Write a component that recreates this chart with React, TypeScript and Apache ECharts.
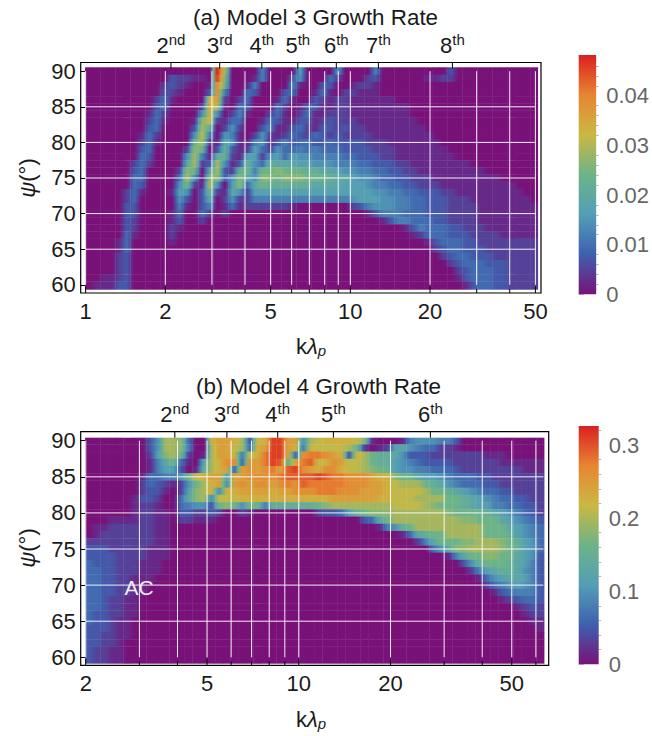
import React, { useEffect, useRef } from "react";
import * as echarts from "echarts";

const FONT = '"Liberation Sans", Arial, sans-serif';
const INK = "#1a1a1a";
const palette = [
  [120, 18, 121],
  [63, 96, 174],
  [83, 158, 182],
  [109, 179, 136],
  [202, 184, 67],
  [231, 133, 50],
  [217, 33, 32],
];
const LEVELS = "0123456789abcdefghijk";

// Growth-rate levels. Rows run from psi = 90 down to psi = 60,
// columns run in equal log k steps; each character is a level 0..k (k = 20 = top of colour bar).
const model3Rows = [
  "0000000000 0000000kc0 0005000070 0006000050 0000000030 0000000000",
  "0000000000 0322110jb0 0015000360 0042000230 0000011220 0000000000",
  "0000000000 2321001ga0 0150000510 0330012210 0000000000 0000000000",
  "0000000000 3210003g50 0430003400 1410221110 0000000000 0000000000",
  "0000000002 410000df20 2400014100 3212211111 1000000000 0000000000",
  "0000000003 400002fc10 4300042013 3112211111 1110000000 0000000000",
  "0000000014 200006e602 5100241024 1122211111 1110000000 0000000000",
  "0000000024 10001bd214 4001431133 1232221111 1111000000 0000000000",
  "0000000034 00003c9026 2003511342 1332322111 1111100000 0000000000",
  "0000000142 00006d5065 1026212432 4323222211 1111110000 0000000000",
  "0000000241 0000ac2186 1156135344 3343333222 1111111000 0000000000",
  "0000000340 0002ba0393 1274264454 5444333322 2111111100 0000000000",
  "0000000430 0006c51992 1772674766 5555443332 2111111110 0000000000",
  "0000002420 0008c23c61 3964988877 6665554433 3221111111 1000000000",
  "0000003400 002ba08c32 9a5aabaaa9 9887665544 3322111111 1110000000",
  "0000004400 004c60bb36 b86bbabbba aa98876654 4332221111 1111100000",
  "0000004300 006a21c607 b48a999999 8888777655 4433222111 1111111000",
  "0000024100 017603a218 6277777777 7777777766 5544333221 1111111100",
  "0000024000 0063038026 2255555555 5555567776 6554433322 2111111110",
  "0000033000 0051035014 1222222100 0000023566 6554433322 2211111111",
  "0000033000 0140042020 0000000000 0000000135 5544433322 2211111111",
  "0000032000 0130020000 0000000000 0000000001 3554443322 2211111111",
  "0000032000 0210000000 0000000000 0000000000 0013544433 2221111111",
  "0000041000 0200000000 0000000000 0000000000 0001244433 3222211111",
  "0000140000 0100000000 0000000000 0000000000 0000013444 3322222222",
  "0000140000 0000000000 0000000000 0000000000 0000002344 3332222222",
  "0000230000 0000000000 0000000000 0000000000 0000000234 4333222222",
  "0000230000 0000000000 0000000000 0000000000 0000000023 4443332222",
  "0000230000 0000000000 0000000000 0000000000 0000000002 3444332222",
  "0011230000 0000000000 0000000000 0000000000 0000000001 3444332222",
  "0111330000 0000000000 0000000000 0000000000 0000000000 1344332222",
];

const model4Rows = [
  "0000000036 ccb400effe c3dejjff6c deeeedb100 0156665530 0000000000",
  "0000000036 ccb500cffd c4efjjfe5e ddddca2012 7865442210 0000000000",
  "0000000027 bca201cffe 5dehjjf4gh hgfe3eca99 8633322222 2211100000",
  "0000000015 8a4108cegg 4gfhji9fhi degfddca99 7654333322 2222111111",
  "0000000015 773019cef4 fgfghfijgf eggeddcbaa 7665544432 2222222111",
  "0000000144 556adeff7f fgggghiiii jihhgggfee baa8776544 4332222222",
  "0000000243 2126acef6f gfggfghgih hhhhgggffe dccca98654 4433222222",
  "0000000233 1027bce6ee ffffeffggg hhhgggfffe ddddcaa987 6544332222",
  "0000001332 0048bc6ddd eeeeeeeeee eeffffffee dddccccaa9 8765443322",
  "0000001221 0045663aba 6aa5999999 abcccccccc ddddcbaaa9 8775544332",
  "0000001221 1033223200 2100000000 233479abbb cccccccbaa aa98765432",
  "0001111221 1022111000 0000000000 000000348a cccccccccb baaa876543",
  "0112222221 1000000000 0000000000 0000000015 69accccccc ccaaa87654",
  "0122222221 1000000000 0000000000 0000000000 01489aaccc ccaaa97654",
  "2222222221 1000000000 0000000000 0000000000 000258aaab bcccba9764",
  "3332222211 1000000000 0000000000 0000000000 00000468bb ccccba9764",
  "3333222211 1000000000 0000000000 0000000000 0000000158 aabbaa8763",
  "4333222111 0000000000 0000000000 0000000000 0000000003 69aaa98753",
  "4433222111 0000000000 0000000000 0000000000 0000000000 2578998653",
  "4433221110 0000000000 0000000000 0000000000 0000000000 0146788753",
  "4433221100 0000000000 0000000000 0000000000 0000000000 0024567653",
  "4433221100 0000000000 0000000000 0000000000 0000000000 0001345553",
  "4432211000 0000000000 0000000000 0000000000 0000000000 0000123443",
  "4432211000 0000000000 0000000000 0000000000 0000000000 0000001232",
  "4332211000 0000000000 0000000000 0000000000 0000000000 0000000122",
  "4332110000 0000000000 0000000000 0000000000 0000000000 0000000011",
  "3332110000 0000000000 0000000000 0000000000 0000000000 0000000001",
  "3322110000 0000000000 0000000000 0000000000 0000000000 0000000000",
  "3322100000 0000000000 0000000000 0000000000 0000000000 0000000000",
  "3221100000 0000000000 0000000000 0000000000 0000000000 0000000000",
  "3221100000 0000000000 0000000000 0000000000 0000000000 0000000000",
];

const psiTicks = [60, 65, 70, 75, 80, 85, 90];
const psiGrid = [65, 70, 75, 80, 85];

const majorA = [1, 2, 5, 10, 20, 50];
const minorA = [3, 4, 6, 7, 8, 9, 30, 40];
const harmonicKA = [2.1, 3.21, 4.63, 6.33, 8.85, 12.76, 24.3];
const harmonicLabelsA = ["2|nd", "3|rd", "4|th", "5|th", "6|th", "7|th", "8|th"];

const majorB = [2, 5, 10, 20, 50];
const minorB = [3, 4, 6, 7, 8, 9, 30, 40, 60];
const harmonicKB = [3.92, 5.81, 8.53, 12.99, 27.04];
const harmonicLabelsB = ["2|nd", "3|rd", "4|th", "5|th", "6|th"];

const barMajorA = [0, 0.01, 0.02, 0.03, 0.04];
const barMinorA = [0.002, 0.004, 0.006, 0.008, 0.012, 0.014, 0.016, 0.018, 0.022, 0.024, 0.026, 0.028, 0.032, 0.034, 0.036, 0.038, 0.042, 0.044, 0.046];
const barMajorB = [0, 0.1, 0.2, 0.3];
const barMinorB = [0.02, 0.04, 0.06, 0.08, 0.12, 0.14, 0.16, 0.18, 0.22, 0.24, 0.26, 0.28, 0.32];

const panelA = {
  rows: model3Rows, max: 0.0482, kFrom: 0.995, kTo: 51, kMin: 0.958, kMax: 52.5, yMin: 58.85, yMax: 91.22,
  psiTop: 90.55, psiBottom: 59.37,
  kGridFrom: 1, kGridTo: 50, major: majorA, minor: minorA, harmK: harmonicKA, harmL: harmonicLabelsA,
  left: 80.7, right: 541, top: 62.5, bottom: 293,
};
const panelB = {
  rows: model4Rows, max: 0.326, kFrom: 1.99, kTo: 63.8, kMin: 1.925, kMax: 66.1, yMin: 58.89, yMax: 91.25,
  psiTop: 90.42, psiBottom: 59.17,
  kGridFrom: 2, kGridTo: 63.5, major: majorB, minor: minorB, harmK: harmonicKB, harmL: harmonicLabelsB,
  left: 80.7, right: 548.7, top: 431.7, bottom: 665.3,
};

function colorAt(t: number) {
  const pos = Math.max(0, Math.min(1, t)) * (palette.length - 1);
  const i = Math.min(palette.length - 2, Math.floor(pos));
  const f = pos - i;
  const c = palette[i].map((v, n) => Math.round(v + (palette[i + 1][n] - v) * f));
  return `rgb(${c[0]},${c[1]},${c[2]})`;
}

function cells(p: typeof panelA) {
  const out: number[][] = [];
  const ratio = p.kTo / p.kFrom;
  const nRows = p.rows.length;
  p.rows.forEach((raw, r) => {
    const row = raw.replace(/ /g, "");
    const n = row.length;
    const lv = Array.from(row).map((ch) => LEVELS.indexOf(ch));
    for (let c = 0; c < n; c++) {
      const here = lv[c];
      const prev = c > 0 ? lv[c - 1] : here;
      const next = c < n - 1 ? lv[c + 1] : here;
      out.push([
        p.kFrom * Math.pow(ratio, c / n),
        p.kFrom * Math.pow(ratio, (c + 1) / n),
        r === nRows - 1 ? p.psiBottom : 90 - r - 0.5,
        r === 0 ? p.psiTop : 90 - r + 0.5,
        (here / 20) * p.max,
        ((prev + here) / 40) * p.max,
        ((here + next) / 40) * p.max,
      ]);
    }
  });
  return out;
}

function panelSeries(p: typeof panelA, i: number) {
  const base = { type: "custom", xAxisIndex: i, yAxisIndex: i, silent: true, clip: false, progressive: 0 };
  const line = (x1: number, y1: number, x2: number, y2: number, stroke: string, w: number) => ({
    type: "line",
    shape: { x1, y1, x2, y2 },
    style: { stroke, lineWidth: w },
  });
  const vLines = [...p.major, ...p.minor];
  return [
    {
      ...base,
      z: 2,
      encode: { x: [0, 1], y: [2, 3] },
      data: cells(p),
      renderItem: (_: any, api: any) => {
        const a = api.coord([api.value(0), api.value(3)]);
        const b = api.coord([api.value(1), api.value(2)]);
        const v = api.value(4);
        const l = api.value(5);
        const r = api.value(6);
        const fill =
          v === l && v === r
            ? colorAt(v / p.max)
            : new echarts.graphic.LinearGradient(0, 0, 1, 0, [
                { offset: 0, color: colorAt(l / p.max) },
                { offset: 0.5, color: colorAt(v / p.max) },
                { offset: 1, color: colorAt(r / p.max) },
              ]);
        return {
          type: "rect",
          shape: { x: a[0], y: a[1], width: b[0] - a[0] + 0.4, height: b[1] - a[1] + 0.4 },
          style: { fill },
        };
      },
    },
    {
      ...base,
      z: 3,
      encode: { x: 0, y: 1 },
      data: vLines.map((k) => [k, 60]),
      renderItem: (_: any, api: any) => {
        const k = api.value(0);
        const a = api.coord([k, 60]);
        const b = api.coord([k, 90]);
        return line(a[0], a[1], b[0], b[1], "rgba(255,255,255,0.92)", 1);
      },
    },
    {
      ...base,
      z: 3,
      encode: { x: 0, y: 1 },
      data: psiGrid.map((v) => [p.kGridFrom, v]),
      renderItem: (_: any, api: any) => {
        const v = api.value(1);
        const a = api.coord([p.kGridFrom, v]);
        const b = api.coord([p.kGridTo, v]);
        return line(a[0], a[1], b[0], b[1], "rgba(255,255,255,0.92)", 1);
      },
    },
    {
      ...base,
      z: 4,
      encode: { x: 0, y: 1 },
      data: vLines.map((k) => [k, 60]),
      renderItem: (params: any, api: any) => {
        const k = api.value(0);
        const x = api.coord([k, 60])[0];
        const len = params.dataIndex < p.major.length ? 6.5 : 4;
        return line(x, p.bottom, x, p.bottom - len, "#000", 1);
      },
    },
    {
      ...base,
      z: 4,
      encode: { x: 0, y: 1 },
      data: p.harmK.map((k) => [k, 90]),
      renderItem: (_: any, api: any) => {
        const x = api.coord([api.value(0), 90])[0];
        return line(x, p.top, x, p.top + 6, "#000", 1);
      },
    },
    {
      ...base,
      z: 4,
      encode: { x: 0, y: 1 },
      data: p.major.map((k) => [k, 60]),
      renderItem: (params: any, api: any) => {
        const x = api.coord([api.value(0), 60])[0];
        return {
          type: "text",
          x,
          y: p.bottom + 7,
          style: {
            text: String(p.major[params.dataIndex]),
            fill: INK,
            fontSize: 22,
            fontFamily: FONT,
            align: "center",
            verticalAlign: "top",
          },
        };
      },
    },
    {
      ...base,
      z: 4,
      encode: { x: 0, y: 1 },
      data: p.harmK.map((k) => [k, 90]),
      renderItem: (params: any, api: any) => {
        const x = api.coord([api.value(0), 90])[0];
        const [n, s] = p.harmL[params.dataIndex].split("|");
        return {
          type: "text",
          x,
          y: p.top - 6,
          style: {
            text: `{n|${n}}{s|${s}}`,
            align: "center",
            verticalAlign: "bottom",
            rich: {
              n: { fontSize: 22, fontFamily: FONT, fill: INK, lineHeight: 25, verticalAlign: "bottom" },
              s: { fontSize: 15, fontFamily: FONT, fill: INK, lineHeight: 25, verticalAlign: "top" },
            },
          },
        };
      },
    },
  ];
}

function barSeries(max: number, i: number) {
  return {
    type: "custom",
    xAxisIndex: i,
    yAxisIndex: i,
    silent: true,
    z: 2,
    encode: { x: 0, y: 1 },
    data: [[0, max]],
    renderItem: (_: any, api: any) => {
      const a = api.coord([0, max]);
      const b = api.coord([1, 0]);
      return {
        type: "rect",
        shape: { x: a[0], y: a[1], width: b[0] - a[0], height: b[1] - a[1] },
        style: {
          fill: new echarts.graphic.LinearGradient(
            0, 1, 0, 0,
            palette.map((_c, n) => ({ offset: n / (palette.length - 1), color: colorAt(n / (palette.length - 1)) }))
          ),
        },
      };
    },
  };
}

const kName = (x: number, y: number) => ({
  type: "text",
  x,
  y,
  style: {
    text: "{a|k}{b|λ}{c|p}",
    align: "center",
    verticalAlign: "middle",
    rich: {
      a: { fontSize: 22, fontFamily: FONT, fill: INK },
      b: { fontSize: 22, fontFamily: FONT, fontStyle: "italic", fill: INK },
      c: { fontSize: 15, fontFamily: FONT, fontStyle: "italic", fill: INK, padding: [9, 0, 0, 0] },
    },
  },
});

const psiName = (x: number, y: number) => ({
  type: "text",
  x,
  y,
  rotation: Math.PI / 2,
  style: {
    text: "{a|ψ}{b|(°)}",
    align: "center",
    verticalAlign: "middle",
    rich: {
      a: { fontSize: 22, fontFamily: FONT, fontStyle: "italic", fill: INK },
      b: { fontSize: 22, fontFamily: FONT, fill: INK },
    },
  },
});

function leftAxis(p: typeof panelA, i: number) {
  return {
    type: "value",
    gridIndex: i,
    min: p.yMin,
    max: p.yMax,
    axisLine: { show: false },
    splitLine: { show: false },
    axisTick: { show: true, inside: true, length: 5, customValues: psiTicks, lineStyle: { color: "#000", width: 1 } },
    axisLabel: { customValues: psiTicks, fontSize: 22, fontFamily: FONT, color: INK, margin: 5 },
  };
}

function barAxis(max: number, i: number, major: number[]) {
  return {
    type: "value",
    gridIndex: i,
    position: "right",
    min: 0,
    max,
    axisLine: { show: false },
    splitLine: { show: false },
    axisTick: { show: true, length: 5, customValues: major, lineStyle: { color: "#b5b5b5", width: 1 } },
    axisLabel: {
      customValues: major,
      fontSize: 22,
      fontFamily: FONT,
      color: "#666",
      margin: 10,
      formatter: (v: number) => String(v),
    },
  };
}

function barMinorAxis(max: number, i: number, minor: number[]) {
  return {
    type: "value",
    gridIndex: i,
    position: "right",
    min: 0,
    max,
    axisLine: { show: false },
    splitLine: { show: false },
    axisTick: { show: true, length: 2.5, customValues: minor, lineStyle: { color: "#b5b5b5", width: 1 } },
    axisLabel: { show: false },
  };
}

const gridFor = (p: typeof panelA) => ({
  show: true,
  left: p.left,
  top: p.top,
  width: p.right - p.left,
  height: p.bottom - p.top,
  borderColor: "#000",
  borderWidth: 1.2,
  backgroundColor: "transparent",
  containLabel: false,
});

const logAxis = (p: typeof panelA, i: number) => ({
  type: "log",
  logBase: 10,
  gridIndex: i,
  min: p.kMin,
  max: p.kMax,
  show: false,
});

const unitAxis = (i: number) => ({ type: "value", gridIndex: i, min: 0, max: 1, show: false });

const titleStyle = { fontSize: 22.4, fontWeight: "normal", color: INK, fontFamily: FONT };

export default function App() {
  const ref = useRef<HTMLDivElement>(null);
  useEffect(() => {
    document.body.style.margin = "0";
    const chart = echarts.init(ref.current!, null, { renderer: "svg" });
    chart.setOption({
      animation: false,
      backgroundColor: "#fff",
      title: [
        { text: "(a) Model 3 Growth Rate", left: 310.5, top: 1, textAlign: "center", textStyle: titleStyle },
        { text: "(b) Model 4 Growth Rate", left: 313.5, top: 370, textAlign: "center", textStyle: titleStyle },
      ],
      grid: [
        gridFor(panelA),
        gridFor(panelB),
        { left: 578.7, top: 55, width: 20, height: 239.3, show: false },
        { left: 578.7, top: 426, width: 20, height: 238.3, show: false },
      ],
      xAxis: [logAxis(panelA, 0), logAxis(panelB, 1), unitAxis(2), unitAxis(3)],
      yAxis: [
        leftAxis(panelA, 0),
        leftAxis(panelB, 1),
        barAxis(panelA.max, 2, barMajorA),
        barAxis(panelB.max, 3, barMajorB),
        barMinorAxis(panelA.max, 2, barMinorA),
        barMinorAxis(panelB.max, 3, barMinorB),
      ],
      series: [
        ...panelSeries(panelA, 0),
        ...panelSeries(panelB, 1),
        barSeries(panelA.max, 2),
        barSeries(panelB.max, 3),
      ],
      graphic: [
        kName(311, 346),
        kName(311, 719),
        psiName(27, 178),
        psiName(27, 548),
        {
          type: "text",
          x: 139,
          y: 587,
          z: 10,
          style: { text: "AC", fill: "#f2ecf2", fontSize: 21, fontFamily: FONT, align: "center", verticalAlign: "middle" },
        },
      ],
    });
    return () => chart.dispose();
  }, []);
  return <div ref={ref} style={{ position: "fixed", left: 0, top: 0, width: 652, height: 736 }} />;
}
